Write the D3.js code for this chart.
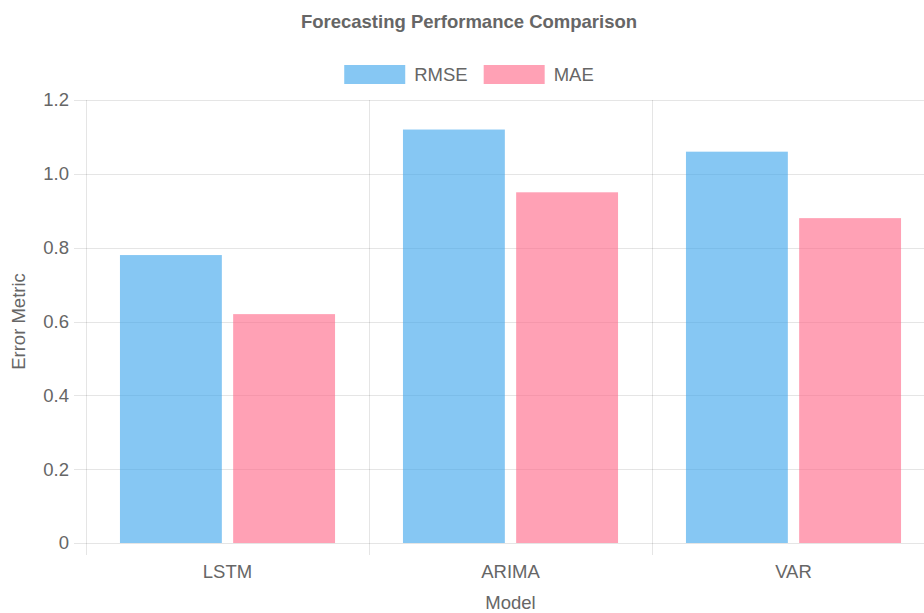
<!DOCTYPE html>
<html>
<head>
<meta charset="utf-8">
<script src="https://cdn.jsdelivr.net/npm/d3@7"></script>
<style>
  html, body { margin: 0; padding: 0; background: #fff; overflow: hidden; }
  svg { display: block; }
  text { font-family: "Liberation Sans", Arial, Helvetica, sans-serif; fill: #666; }
</style>
</head>
<body>
<svg id="chart" width="924" height="613"></svg>
<script>
// Model names and error metrics
const models = ["LSTM", "ARIMA", "VAR"];
const rmse = [0.78, 1.12, 1.06];
const mae = [0.62, 0.95, 0.88];
const seriesNames = ["RMSE", "MAE"];
const yTicks = [0, 0.2, 0.4, 0.6, 0.8, 1.0, 1.2];

const colors = {
  RMSE: "rgba(54,162,235,0.6)",
  MAE: "rgba(255,99,132,0.6)"
};

const svg = d3.select("#chart");
const grid = "rgba(0,0,0,0.1)";
const fontSize = "18.5px";

// Full drawing is slightly wider than the window; the right edge is cut off.
const fullWidth = 938;
const cx = fullWidth / 2;
const plot = { left: 86, right: 935, top: 100, bottom: 543 };
const tickLen = 12;

const x = d3.scaleBand().domain(models).range([plot.left, plot.right]);
// Bars take 80% of each category, each bar 90% of its slot
const catPct = 0.8, barPct = 0.9;
const y = d3.scaleLinear().domain([0, 1.2]).range([plot.bottom, plot.top]);

// Horizontal grid lines with tick marks
svg.append("g").selectAll("line").data(yTicks).join("line")
  .attr("x1", plot.left - tickLen).attr("x2", plot.right)
  .attr("y1", d => Math.round(y(d)) + 0.5).attr("y2", d => Math.round(y(d)) + 0.5)
  .attr("stroke", grid).attr("stroke-width", 1);

// Vertical grid lines at category boundaries
const bounds = models.map(m => x(m)).concat([plot.right]);
svg.append("g").selectAll("line").data(bounds).join("line")
  .attr("x1", d => Math.round(d) + 0.5).attr("x2", d => Math.round(d) + 0.5)
  .attr("y1", plot.top).attr("y2", plot.bottom + tickLen)
  .attr("stroke", grid).attr("stroke-width", 1);

// Y tick labels
svg.append("g").selectAll("text").data(yTicks).join("text")
  .attr("x", plot.left - tickLen - 5).attr("y", d => y(d))
  .attr("dy", "0.35em").attr("text-anchor", "end")
  .style("font-size", fontSize)
  .text(d => d === 0 ? "0" : d.toFixed(1));

// Bars
const series = [
  { name: seriesNames[0], values: rmse },
  { name: seriesNames[1], values: mae }
];
const catW = x.bandwidth() * catPct;
const slot = catW / series.length;
const barW = slot * barPct;
series.forEach((s, si) => {
  svg.append("g").selectAll("rect").data(models).join("rect")
    .attr("x", (m) => x(m) + (x.bandwidth() - catW) / 2 + si * slot + (slot - barW) / 2)
    .attr("y", (m, i) => y(s.values[i]))
    .attr("width", barW)
    .attr("height", (m, i) => y(0) - y(s.values[i]))
    .attr("fill", colors[s.name]);
});

// X tick labels
svg.append("g").selectAll("text").data(models).join("text")
  .attr("x", m => x(m) + x.bandwidth() / 2).attr("y", 572)
  .attr("dy", "0.35em").attr("text-anchor", "middle")
  .style("font-size", fontSize)
  .text(m => m);

// Axis titles
svg.append("text").attr("x", (plot.left + plot.right) / 2).attr("y", 603)
  .attr("dy", "0.35em").attr("text-anchor", "middle")
  .style("font-size", fontSize).text("Model");
svg.append("text")
  .attr("transform", `translate(19,${(plot.top + plot.bottom) / 2}) rotate(-90)`)
  .attr("dy", "0.35em").attr("text-anchor", "middle")
  .style("font-size", fontSize).text("Error Metric");

// Title
svg.append("text").attr("x", cx).attr("y", 22)
  .attr("dy", "0.35em").attr("text-anchor", "middle")
  .style("font-size", fontSize).style("font-weight", "bold")
  .text("Forecasting Performance Comparison");

// Legend
const boxW = 61, boxH = 19, boxGap = 9, itemGap = 16;
const legend = svg.append("g");
const items = series.map(s => {
  const g = legend.append("g");
  g.append("rect").attr("width", boxW).attr("height", boxH)
    .attr("fill", colors[s.name]);
  const t = g.append("text").attr("x", boxW + boxGap).attr("y", boxH / 2)
    .attr("dy", "0.35em").style("font-size", fontSize).text(s.name);
  return { g, w: boxW + boxGap + t.node().getComputedTextLength() };
});
const totalW = d3.sum(items, d => d.w) + itemGap * (items.length - 1);
let lx = cx - totalW / 2;
items.forEach(it => {
  it.g.attr("transform", `translate(${lx},65)`);
  lx += it.w + itemGap;
});
</script>
</body>
</html>
